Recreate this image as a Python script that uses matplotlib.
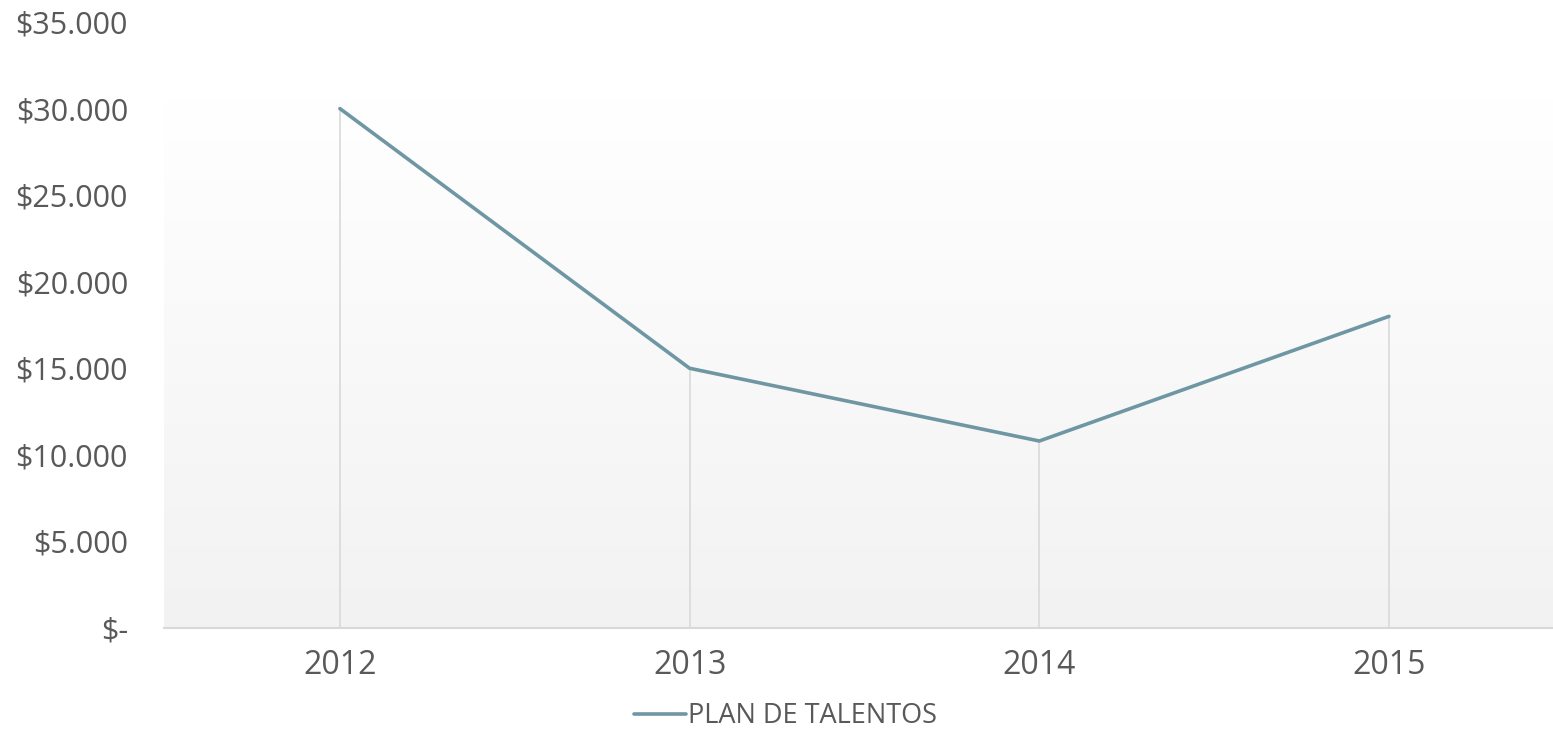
import numpy as np
from matplotlib import pyplot as plt
from matplotlib.colors import LinearSegmentedColormap
from matplotlib.ticker import FuncFormatter

years = ["2012", "2013", "2014", "2015"]
plan_talentos = [30000, 15000, 10800, 18000]
y_ticks = [0, 5000, 10000, 15000, 20000, 25000, 30000, 35000]

text_color = "#595959"
line_color = "#6f97a3"
grid_color = "#d9d9d9"

plt.rcParams["font.family"] = ["Open Sans", "DejaVu Sans"]

fig = plt.figure(figsize=(15.53, 7.35), dpi=100)
ax = fig.add_axes([164 / 1553, 1 - 628 / 735, 1 - 164 / 1553, (628 - 22) / 735])

x = np.arange(len(years))
ax.set_xlim(-0.503, 3.469)
ax.set_ylim(0, 35000)

# vertical gradient background, light grey at bottom fading to white
grad = np.linspace(0, 1, 256).reshape(-1, 1)
ax.imshow(
    grad,
    extent=[-0.503, 3.469, 0, 30500],
    aspect="auto",
    cmap=LinearSegmentedColormap.from_list("bg", ["#f2f2f2", "#ffffff"]),
    origin="lower",
    zorder=0,
)

# drop lines
ax.vlines(x, 0, plan_talentos, color=grid_color, linewidth=1.2, zorder=1)
ax.plot(
    x,
    plan_talentos,
    color=line_color,
    linewidth=2.6,
    solid_capstyle="round",
    label="PLAN DE TALENTOS",
    zorder=2,
)

for side in ["top", "right", "left"]:
    ax.spines[side].set_visible(False)
ax.spines["bottom"].set_color(grid_color)
ax.spines["bottom"].set_linewidth(1.5)

ax.set_xticks(x)
ax.set_xticklabels(years)
ax.set_yticks(y_ticks)
ax.yaxis.set_major_formatter(
    FuncFormatter(lambda v, p: "$-" if v == 0 else "${:,.0f}".format(v).replace(",", "."))
)
ax.tick_params(axis="y", length=0, labelsize=22, labelcolor=text_color, pad=26)
ax.tick_params(axis="x", length=0, labelsize=23, labelcolor=text_color, pad=15)

fig.legend(
    loc="lower center",
    bbox_to_anchor=(0.506, -0.027),
    frameon=False,
    fontsize=19.5,
    labelcolor=text_color,
    handlelength=1.9,
    handletextpad=0.1,
)

fig.savefig("out.png", dpi=100)
